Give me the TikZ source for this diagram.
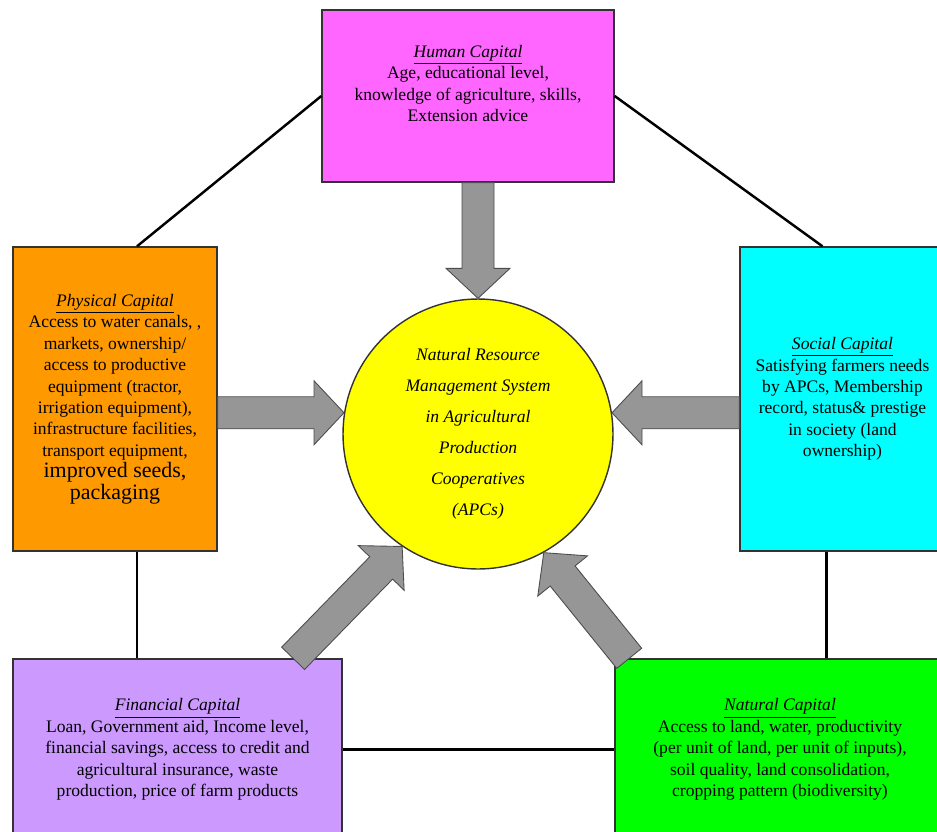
\documentclass[tikz,border=0pt]{standalone}
\usepackage{fontspec}
\setmainfont{Liberation Serif}
\newfontfamily\capserif{Liberation Serif}
\usetikzlibrary{calc}

\definecolor{humanpink}{HTML}{FF66FF}
\definecolor{physorange}{HTML}{FF9900}
\definecolor{socialcyan}{HTML}{00FFFF}
\definecolor{finlilac}{HTML}{CC99FF}
\definecolor{natgreen}{HTML}{00FF00}
\definecolor{apcyellow}{HTML}{FFFF00}
\definecolor{flowgray}{HTML}{969696}

\tikzset{
  capbox/.style={draw=black!80, line width=0.8pt, align=center, inner sep=2pt,
    font=\capserif\fontsize{10}{12.2}\selectfont},
  link/.style={line width=1.4pt},
  flow/.style={draw=black!70, fill=flowgray, line width=0.5pt, line join=miter},
}

\newcommand{\captitle}[1]{\underline{\textit{#1}}}

% block arrow from #1 to #2
\newcommand{\capflow}[2]{%
  \coordinate (hb) at ($(#2)!0.6cm!(#1)$);
  \draw[flow] ($(#1)!0.32cm!90:(#2)$) -- ($(hb)!0.32cm!90:(#2)$) -- ($(hb)!0.64cm!90:(#2)$)
    -- (#2) -- ($(hb)!0.64cm!-90:(#2)$) -- ($(hb)!0.32cm!-90:(#2)$) -- ($(#1)!0.32cm!-90:(#2)$) -- cycle;
}

\begin{document}
\begin{tikzpicture}[x=0.02cm, y=-0.02cm]
    \useasboundingbox (0,0) rectangle (937,832);

    % Capital boxes
    \node[capbox, fill=humanpink, minimum width=5.84cm, minimum height=3.44cm] (human) at (468,96)
      {\captitle{Human Capital}\\Age, educational level,\\knowledge of agriculture, skills,\\Extension advice\\[2pt]};
    \node[capbox, fill=physorange, minimum width=4.08cm, minimum height=6.08cm] (physical) at (115,399)
      {\captitle{Physical Capital}\\Access to water canals, ,\\markets, ownership/\\access to productive\\equipment (tractor,\\irrigation equipment),\\infrastructure facilities,\\transport equipment,\\{\fontsize{12.5}{15}\selectfont improved seeds,}\\{\fontsize{12.5}{15}\selectfont packaging}};
    \node[capbox, fill=socialcyan, minimum width=4.1cm, minimum height=6.08cm] (social) at (842.5,399)
      {\captitle{Social Capital}\\Satisfying farmers needs\\by APCs, Membership\\record, status\& prestige\\in society (land\\ownership)};
    \node[capbox, fill=finlilac, minimum width=6.58cm, minimum height=3.62cm] (financial) at (177.5,749.5)
      {\captitle{Financial Capital}\\Loan, Government aid, Income level,\\financial savings, access to credit and\\agricultural insurance, waste\\production, price of farm products};
    \node[capbox, fill=natgreen, minimum width=6.6cm, minimum height=3.62cm] (natural) at (780,749.5)
      {\captitle{Natural Capital}\\Access to land, water, productivity\\(per unit of land, per unit of inputs),\\soil quality, land consolidation,\\cropping pattern (biodiversity)};

    % Centre
    \node[circle, draw=black!80, line width=0.8pt, fill=apcyellow, minimum size=5.4cm, inner sep=0pt,
      align=center, font=\capserif\fontsize{10}{17.6}\selectfont\itshape] (apc) at (478,434)
      {Natural Resource\\Management System\\in Agricultural\\Production\\Cooperatives\\(APCs)};

    % Links between boxes
    \coordinate (phytop) at ($(physical.north)+(22,0)$);
    \coordinate (phybot) at ($(physical.south)+(22,0)$);
    \coordinate (soctop) at ($(social.north)+(-20,0)$);
    \coordinate (socbot) at ($(social.south)+(-16,0)$);
    \draw[link] (human.west) -- (phytop);
    \draw[link] (human.east) -- (soctop);
    \draw[link] (phybot) -- (phybot |- financial.north);
    \draw[link] (socbot) -- (socbot |- natural.north);
    \draw[link] (financial.east) -- (natural.west);

    % Flows into the centre
    \coordinate (humout) at (human.south -| apc.north);
    \coordinate (phyout) at (physical.east |- apc.171);
    \coordinate (socout) at (social.west |- apc.9);
    \coordinate (finout) at ($(financial.north)!0.7!(financial.north east)$);
    \coordinate (natout) at ($(natural.north west)!0.09!(natural.north)$);
    \capflow{humout}{apc.north}
    \capflow{phyout}{apc.171}
    \capflow{socout}{apc.9}
    \capflow{finout}{apc.236}
    \capflow{natout}{apc.299}
\end{tikzpicture}
\end{document}
